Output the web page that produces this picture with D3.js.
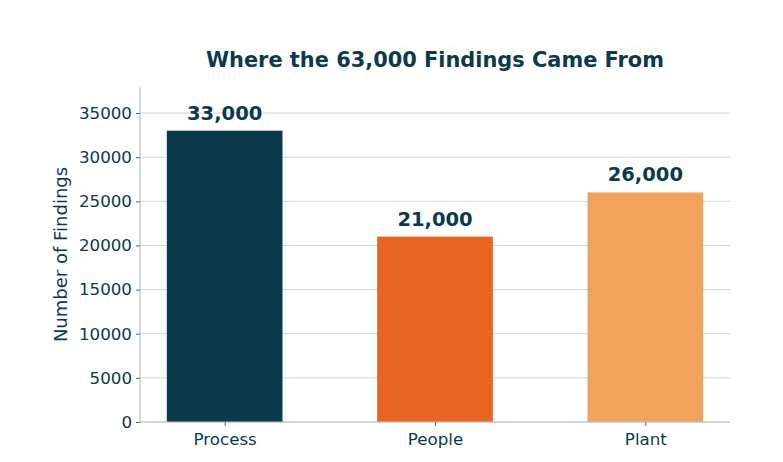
<!DOCTYPE html>
<html><head><meta charset="utf-8">
<script src="https://cdn.jsdelivr.net/npm/d3@7"></script>
<style>body{margin:0;background:#fff}svg{display:block}text{font-family:"DejaVu Sans",sans-serif}</style>
</head><body>
<script>
const categories = ["Process", "People", "Plant"];
const values = [33000, 21000, 26000];
const valueLabels = ["33,000", "21,000", "26,000"];
const colors = ["#0b3a4b", "#e8641f", "#f0a35b"];
const yTicks = [0, 5000, 10000, 15000, 20000, 25000, 30000, 35000];
const title = "Where the 63,000 Findings Came From";
const yLabel = "Number of Findings";

const W = 783, H = 462;
const m = {left: 140, right: 53, top: 87, bottom: 40};
const textColor = "#0d3a4b";
const gridColor = "#cdd5da";

const svg = d3.select("body").append("svg").attr("width", W).attr("height", H);

const barW = 0.55;
const pad = 0.05 * (categories.length - 1 + barW);
const x = d3.scaleLinear()
  .domain([-barW / 2 - pad, categories.length - 1 + barW / 2 + pad])
  .range([m.left, W - m.right]);
const y = d3.scaleLinear().domain([0, d3.max(values) * 1.15]).range([H - m.bottom, m.top]);

// grid
svg.append("g").selectAll("line").data(yTicks).join("line")
  .attr("x1", m.left).attr("x2", W - m.right)
  .attr("y1", d => y(d)).attr("y2", d => y(d))
  .attr("stroke", gridColor).attr("stroke-width", 1);

// bars
svg.append("g").selectAll("rect").data(values).join("rect")
  .attr("x", (d, i) => x(i - barW / 2))
  .attr("width", (d, i) => x(i + barW / 2) - x(i - barW / 2))
  .attr("y", d => y(d))
  .attr("height", d => y(0) - y(d))
  .attr("fill", (d, i) => colors[i]);

// axes
const yAxis = svg.append("g").attr("transform", `translate(${m.left},0)`)
  .call(d3.axisLeft(y).tickValues(yTicks).tickFormat(d3.format("d")).tickSize(4).tickPadding(4));
const xAxis = svg.append("g").attr("transform", `translate(0,${H - m.bottom})`)
  .call(d3.axisBottom(x).tickValues(d3.range(categories.length)).tickFormat(i => categories[i]).tickSize(4).tickPadding(7));
[yAxis, xAxis].forEach(g => {
  g.select(".domain").attr("stroke", "#b8c4cb").attr("stroke-width", 1.2);
  g.selectAll(".tick line").attr("stroke", "#4a6470");
  g.selectAll(".tick text").attr("fill", textColor).style("font-size", "16.7px").style("font-family", "DejaVu Sans");
});
yAxis.select(".domain").attr("d", `M0,${y.range()[0]}V${y.range()[1]}`);
xAxis.select(".domain").attr("d", `M${x.range()[0]},0H${x.range()[1]}`);

// value labels
svg.append("g").selectAll("text").data(values).join("text")
  .attr("x", (d, i) => x(i))
  .attr("y", d => y(d) - 11)
  .attr("text-anchor", "middle")
  .attr("fill", textColor)
  .style("font-size", "19.5px").style("font-weight", "bold")
  .text((d, i) => valueLabels[i]);

// title
svg.append("text").attr("x", (m.left + W - m.right) / 2).attr("y", 67)
  .attr("text-anchor", "middle").attr("fill", textColor)
  .style("font-size", "20.9px").style("font-weight", "bold").text(title);

// y label
svg.append("text")
  .attr("transform", `translate(67,${(y.range()[0] + y.range()[1]) / 2}) rotate(-90)`)
  .attr("text-anchor", "middle").attr("fill", textColor)
  .style("font-size", "18px").text(yLabel);
</script>
</body></html>
